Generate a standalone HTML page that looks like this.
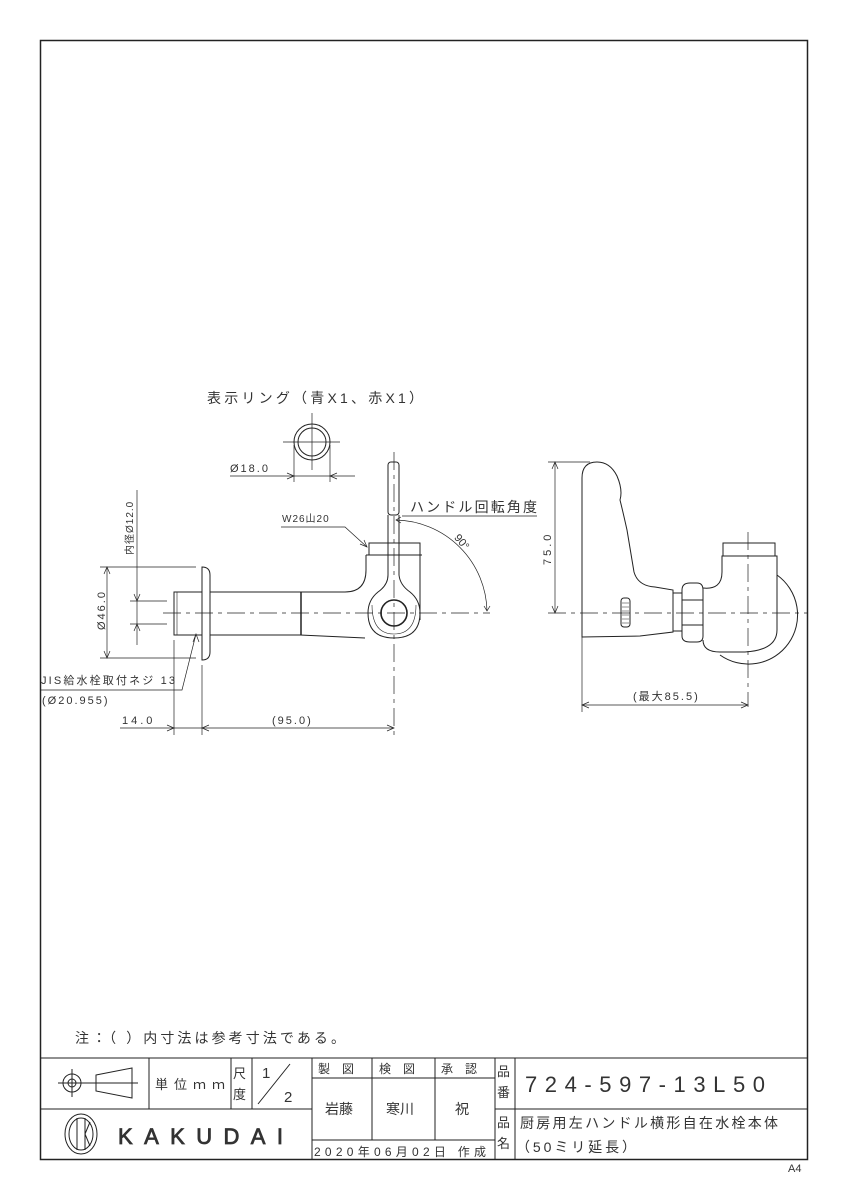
<!DOCTYPE html>
<html><head><meta charset="utf-8"><style>
html,body{margin:0;padding:0;background:#fff}
svg{display:block}
text{font-family:"Liberation Sans","Noto Sans CJK JP",sans-serif;fill:#333}
</style></head><body>
<svg width="848" height="1200" viewBox="0 0 848 1200" xmlns="http://www.w3.org/2000/svg">
<g fill="none" stroke="#222" stroke-width="1">
<rect x="40.5" y="40.5" width="767" height="1119" stroke-width="1.5"/>
<line x1="40" y1="1058" x2="808" y2="1058"/>
<line x1="40" y1="1109" x2="312" y2="1109"/>
<line x1="495" y1="1109" x2="808" y2="1109"/>
<line x1="312" y1="1078" x2="495" y2="1078"/>
<line x1="312" y1="1140" x2="495" y2="1140"/>
<line x1="149" y1="1058" x2="149" y2="1109"/>
<line x1="231" y1="1058" x2="231" y2="1109"/>
<line x1="252" y1="1058" x2="252" y2="1109"/>
<line x1="312" y1="1058" x2="312" y2="1160"/>
<line x1="372" y1="1058" x2="372" y2="1140"/>
<line x1="435" y1="1058" x2="435" y2="1140"/>
<line x1="495" y1="1058" x2="495" y2="1160"/>
<line x1="515" y1="1058" x2="515" y2="1160"/>
<line x1="258" y1="1104" x2="290" y2="1064"/>
<circle cx="72" cy="1083" r="9"/><circle cx="72" cy="1083" r="4"/>
<line x1="58" y1="1083" x2="90" y2="1083"/><line x1="72" y1="1069" x2="72" y2="1097"/>
<path d="M96 1075 L132 1068 L132 1098 L96 1091 Z"/>
<line x1="90" y1="1083" x2="138" y2="1083"/>
<ellipse cx="81" cy="1134" rx="16" ry="20"/><ellipse cx="81" cy="1134" rx="12" ry="16"/>
<path d="M77 1118 L77 1150 M85 1118 L85 1150 M85 1134 L90 1122 M85 1134 L90 1146"/>

<circle cx="312" cy="442" r="18"/><circle cx="312" cy="442" r="14"/>
<line x1="283" y1="442" x2="340" y2="442" stroke-width=".7"/>
<line x1="312" y1="413" x2="312" y2="470" stroke-width=".7"/>
<line x1="294" y1="445" x2="294" y2="482" stroke-width=".7"/>
<line x1="330" y1="445" x2="330" y2="482" stroke-width=".7"/>
<line x1="230" y1="476" x2="355" y2="476" stroke-width=".7"/>

<line x1="163" y1="613" x2="490" y2="613" stroke-dasharray="18,5,4,5" stroke-width=".7"/>
<line x1="394" y1="452" x2="394" y2="735" stroke-dasharray="18,5,4,5" stroke-width=".7"/>
<rect x="174" y="592" width="28" height="43"/>
<line x1="177" y1="592" x2="177" y2="635" stroke-width=".6"/>
<path d="M202 567 Q210 567 210 575 L210 652 Q210 660 202 660 Z"/>
<path d="M210 592 L345 592 Q366 592 366 570 L366 555 M210 635 L300 635 L365 638"/>
<line x1="301" y1="592" x2="301" y2="635" stroke-width="1.5"/>
<rect x="369" y="543" width="51" height="12"/>
<line x1="366" y1="555" x2="422" y2="555"/>
<line x1="420" y1="555" x2="420" y2="620"/>
<rect x="388" y="462" width="11" height="53" rx="3"/>
<path d="M388 515 L388 575 Q388 585 378 592 Q368 600 368 613 Q368 638 394 638 Q420 638 420 613 Q420 600 410 592 Q400 585 399 575 L399 515"/>
<path d="M372 605 Q372 634 394 634 Q416 634 416 605" stroke-width=".6"/>
<circle cx="394" cy="613" r="13" stroke-width="1.6"/>
<path d="M396 520 A93 93 0 0 1 487 611" stroke-width=".7"/>
<path d="M401 517 L396 520 L401 523 M484 606 L487 611 L490 606" stroke-width=".7"/>
<path d="M402 516 L408 516 L537 516" stroke-width=".7"/>
<path d="M281 527 L345 527 L367 547" stroke-width=".7"/>
<path d="M40 690 L182 690 L196 634" stroke-width=".7"/>
<line x1="107" y1="567" x2="107" y2="658" stroke-width=".7"/>
<line x1="100" y1="567" x2="196" y2="567" stroke-width=".7"/>
<line x1="100" y1="658" x2="196" y2="658" stroke-width=".7"/>
<line x1="137" y1="490" x2="137" y2="645" stroke-width=".7"/>
<line x1="130" y1="601" x2="167" y2="601" stroke-width=".7"/>
<line x1="130" y1="624" x2="167" y2="624" stroke-width=".7"/>
<line x1="174" y1="640" x2="174" y2="735" stroke-width=".7"/>
<line x1="202" y1="665" x2="202" y2="735" stroke-width=".7"/>
<line x1="120" y1="728" x2="394" y2="728" stroke-width=".7"/>

<line x1="548" y1="613" x2="808" y2="613" stroke-dasharray="18,5,4,5" stroke-width=".7"/>
<line x1="748" y1="532" x2="748" y2="707" stroke-dasharray="18,5,4,5" stroke-width=".7"/>
<line x1="555" y1="462" x2="555" y2="613" stroke-width=".7"/>
<line x1="548" y1="462" x2="590" y2="462" stroke-width=".7"/>
<line x1="582" y1="490" x2="582" y2="712" stroke-width=".7"/>
<line x1="582" y1="705" x2="748" y2="705" stroke-width=".7"/>
<path d="M582 637 L582 478 Q582 462 597 462 Q610 462 617 476 Q623 490 620 500 Q623 512 627 530 L634 572 Q638 586 655 587 L673 590 L673 632 L640 636 Z"/>
<rect x="621" y="598" width="9" height="29" rx="3"/>
<path d="M622 603 L629 603 M622 607 L629 607 M622 611 L629 611 M622 615 L629 615 M622 619 L629 619 M622 623 L629 623" stroke-width=".5"/>
<rect x="673" y="593" width="9" height="38"/>
<path d="M682 590 Q682 583 690 583 L697 583 Q703 583 703 590 L703 636 Q703 642 697 642 L690 642 Q682 642 682 636 Z"/>
<line x1="682" y1="600" x2="703" y2="600"/><line x1="682" y1="625" x2="703" y2="625"/>
<path d="M703 588 Q722 590 722 572 L722 556 L777 556 L777 630 Q777 650 745 652 L720 652 Q703 652 703 640"/>
<rect x="723" y="543" width="52" height="13"/>
<path d="M777 575 A45 45 0 0 1 720 655"/>
</g>
<g fill="none" stroke="#222" stroke-width=".7">
<path d="M287 473 L294 476 L287 479 M337 473 L330 476 L337 479"/>
<path d="M104 574 L107 567 L110 574 M104 651 L107 658 L110 651"/>
<path d="M134 594 L137 601 L140 594 M134 631 L137 624 L140 631"/>
<path d="M167 725 L174 728 L167 731 M209 725 L202 728 L209 731 M387 725 L394 728 L387 731"/>
<path d="M552 469 L555 462 L558 469 M552 606 L555 613 L558 606"/>
<path d="M589 702 L582 705 L589 708 M741 702 L748 705 L741 708"/>
<path d="M193 642 L196 634 L199 642 M360 544 L367 547 L364 540"/>
</g>
<g font-size="13">
<text x="207" y="403" font-size="14" textLength="216">表示リング（青X1、赤X1）</text>
<text x="230" y="472" font-size="11" letter-spacing="2">Ø18.0</text>
<text x="410" y="512" font-size="14" textLength="127">ハンドル回転角度</text>
<text x="282" y="522" font-size="10" letter-spacing="1">W26山20</text>
<text x="455" y="545" font-size="11" transform="rotate(50 462 540)">90°</text>
<text x="41" y="684" font-size="11" textLength="134">JIS給水栓取付ネジ 13</text>
<text x="42" y="704" font-size="11" letter-spacing="2">(Ø20.955)</text>
<text x="122" y="724" font-size="11" letter-spacing="3">14.0</text>
<text x="272" y="724" font-size="11" letter-spacing="2">(95.0)</text>
<text transform="translate(105 630) rotate(-90)" font-size="11" letter-spacing="2">Ø46.0</text>
<text transform="translate(133 555) rotate(-90)" font-size="10" letter-spacing="1">内径Ø12.0</text>
<text transform="translate(551 565) rotate(-90)" font-size="11" letter-spacing="3">75.0</text>
<text x="633" y="700" font-size="11" letter-spacing="2">(最大85.5)</text>
<text x="75" y="1043" font-size="14" textLength="270">注：（ ）内寸法は参考寸法である。</text>
<text x="155" y="1089" font-size="13" textLength="70">単位ｍｍ</text>
<text x="233" y="1078" font-size="13">尺</text><text x="233" y="1099" font-size="13">度</text>
<text x="262" y="1078" font-size="15">1</text><text x="284" y="1102" font-size="15">2</text>
<text x="318" y="1073" font-size="12">製　図</text>
<text x="379" y="1073" font-size="12">検　図</text>
<text x="441" y="1073" font-size="12">承　認</text>
<text x="325" y="1114" font-size="14">岩藤</text>
<text x="386" y="1114" font-size="14">寒川</text>
<text x="455" y="1114" font-size="14">祝</text>
<text x="314" y="1156" font-size="12" textLength="172">2020年06月02日 作成</text>
<text x="497" y="1076" font-size="13">品</text><text x="497" y="1097" font-size="13">番</text>
<text x="497" y="1127" font-size="13">品</text><text x="497" y="1148" font-size="13">名</text>
<text x="525" y="1092" font-size="22" textLength="240" fill="#555">724-597-13L50</text>
<text x="520" y="1128" font-size="14" textLength="258">厨房用左ハンドル横形自在水栓本体</text>
<text x="516" y="1152" font-size="14" textLength="120">（50ミリ延長）</text>
<text x="118" y="1144" font-size="22" textLength="165" fill="none" stroke="#333" stroke-width=".8">KAKUDAI</text>
<text x="788" y="1172" font-size="11">A4</text>
</g>
</svg>
</body></html>
